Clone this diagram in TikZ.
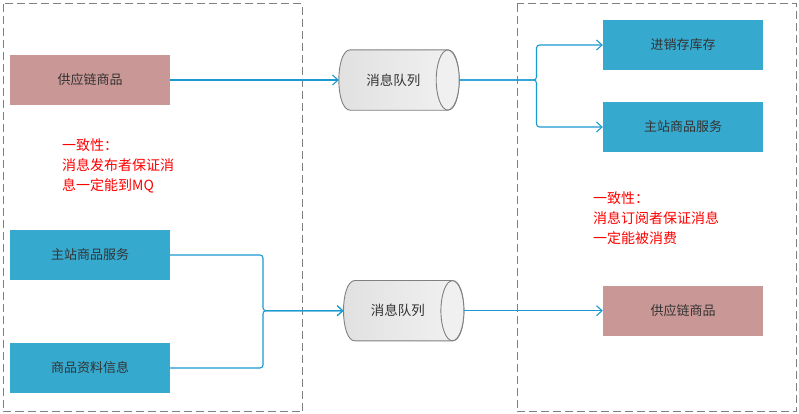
\documentclass[tikz,border=0pt]{standalone}
\usepackage{fontspec}
\setmainfont{Noto Sans CJK SC}
\usetikzlibrary{arrows.meta,calc,backgrounds}
\definecolor{pinkbox}{HTML}{C99896}
\definecolor{bluebox}{HTML}{36A9CF}
\definecolor{txtdark}{HTML}{333333}
\definecolor{connc}{HTML}{1A9AD0}
\definecolor{frameg}{HTML}{7F7F7F}
\definecolor{cylline}{HTML}{808080}
\tikzset{
  boxbase/.style={minimum width=160pt,minimum height=50pt,inner sep=0pt,text=txtdark,font=\fontsize{13}{16}\selectfont},
  pinkb/.style={boxbase,fill=pinkbox},
  blueb/.style={boxbase,fill=bluebox},
  cylnode/.style={minimum width=120pt,minimum height=60pt,inner sep=0pt,text=txtdark,font=\fontsize{13.5}{16}\selectfont},
  cylbody/.style={draw=cylline,line width=0.9pt,left color=black!12,right color=black!5},
  cylend/.style={draw=cylline,line width=0.9pt,fill=black!6},
  conn/.style={draw=connc,line width=1.1pt,rounded corners=3pt,-{Straight Barb[length=5.5pt,width=10pt]}},
  frame/.style={draw=frameg,line width=1.1pt,dash pattern=on 8pt off 4pt},
  note/.style={text=red,font=\fontsize{14}{20}\selectfont,align=left,inner sep=0pt,anchor=west}
}
\newcommand\mycyl[1]{%
  \path[cylbody] ($(#1.north east)+(-11.5,0)$) -- ($(#1.north west)+(11.5,0)$)
    .. controls ($(#1.north west)+(-3.83,0)$) and ($(#1.south west)+(-3.83,0)$) .. ($(#1.south west)+(11.5,0)$)
    -- ($(#1.south east)+(-11.5,0)$)
    .. controls ($(#1.south east)+(3.83,0)$) and ($(#1.north east)+(3.83,0)$) .. cycle;
  \path[cylend] ($(#1.east)+(-11.5,0)$) ellipse[x radius=11.5pt, y radius=30pt];}
\begin{document}
\begin{tikzpicture}[x=1pt,y=-1pt]
\useasboundingbox (0,0) rectangle (799,413);
% frames
\draw[frame] (3.5,3.7) rectangle (302.3,411.7);
\draw[frame] (517.3,3.7) rectangle (796.7,411.7);
% boxes
\node[pinkb] (b1) at (90,80) {供应链商品};
\node[blueb] (b2) at (683,45) {进销存库存};
\node[blueb] (b3) at (683,127) {主站商品服务};
\node[blueb] (b4) at (90,255) {主站商品服务};
\node[blueb] (b5) at (90,368) {商品资料信息};
\node[pinkb] (b6) at (683,310.7) {供应链商品};
% cylinders
\node[cylnode] (q1) at (399,80) {\hspace*{-11.5pt}消息队列};
\node[cylnode] (q2) at (403.7,310.7) {\hspace*{-11.5pt}消息队列};
\begin{scope}[on background layer]
\mycyl{q1}
\mycyl{q2}
\end{scope}
% notes
\node[note] (n1) at (62,165.5) {一致性：\\消息发布者保证消\\息一定能到MQ};
\node[note] (n2) at (593,218.5) {一致性：\\消息订阅者保证消息\\一定能被消费};
% connectors
\coordinate (f1) at (536.5,80);
\coordinate (f2) at (263,310.7);
\draw[conn] (b1.east) -- (q1.west);
\draw[conn] (q1.east) -- (f1) |- (b2.west);
\draw[conn] (q1.east) -- (f1) |- (b3.west);
\draw[conn] (b4.east) -| (f2) -- (q2.west);
\draw[conn] (b5.east) -| (f2) -- (q2.west);
\draw[conn] (q2.east) -- (b6.west);
\end{tikzpicture}
\end{document}
